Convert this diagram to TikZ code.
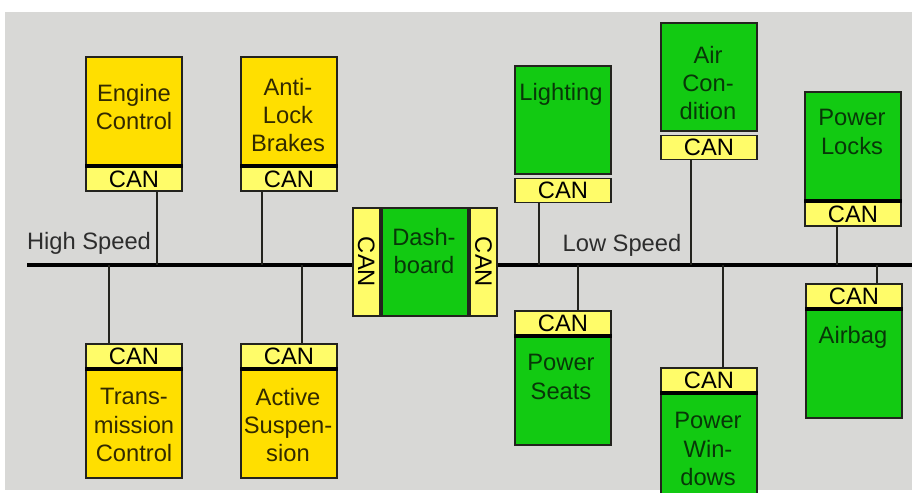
\documentclass[tikz,border=0pt]{standalone}
\usepackage{fontspec}
\setmainfont{Liberation Sans}
\usetikzlibrary{positioning}
\definecolor{ecuyellow}{RGB}{255,223,0}
\definecolor{canyellow}{RGB}{255,252,105}
\definecolor{ecugreen}{RGB}{18,202,18}
\definecolor{bggray}{RGB}{216,216,214}
\definecolor{edge}{RGB}{35,35,30}
\definecolor{yellowtext}{RGB}{50,42,0}
\definecolor{greentext}{RGB}{8,55,8}
\definecolor{bustext}{RGB}{45,45,45}
\begin{document}
\begin{tikzpicture}[x=0.02cm, y=-0.02cm,
    every node/.style={font=\fontsize{13.5}{16}\selectfont},
    ybox/.style={draw=edge, line width=1.1pt, fill=ecuyellow, minimum width=1.92cm, minimum height=2.16cm, inner sep=0pt},
    gbox/.style={ybox, fill=ecugreen},
    canbox/.style={draw=edge, line width=1.1pt, fill=canyellow, minimum width=1.92cm, minimum height=0.48cm, inner sep=0pt},
    ytext/.style={align=center, text=yellowtext},
    gtext/.style={align=center, text=greentext},
    wire/.style={draw=edge, line width=1.1pt},
    sepline/.style={draw=black, line width=2pt},
    bus/.style={draw=black, line width=2.4pt}]
    % 1. Nền
    \clip (0,0) rectangle (912,493);
    \fill[white] (0,0) rectangle (912,493);
    \fill[bggray] (5,12) rectangle (912,490);

    % 2. Bus và các điểm nối
    \coordinate (busL) at (27,265);
    \coordinate (busR) at (912,265);
    \coordinate (engtap) at (157,265);
    \coordinate (abstap) at (262,265);
    \coordinate (transtap) at (109,265);
    \coordinate (susptap) at (302,265);
    \coordinate (lighttap) at (539,265);
    \coordinate (airtap) at (691,265);
    \coordinate (lockstap) at (837,265);
    \coordinate (seatstap) at (578,265);
    \coordinate (windowstap) at (723,265);
    \coordinate (airbagtap) at (877,265);

    % 3. Dashboard
    \node[gbox, minimum width=1.72cm, anchor=north west] (dash) at (381,207) {};
    \node[canbox, minimum width=0.55cm, minimum height=2.16cm, left=0pt of dash] (dashcanL) {\rotatebox{-90}{CAN}};
    \node[canbox, minimum width=0.55cm, minimum height=2.16cm, right=0pt of dash] (dashcanR) {\rotatebox{-90}{CAN}};
    \node[gtext] (dashtxt) at (424,251) {Dash-\\board};
    \draw[bus] (busL) -- (dashcanL.west |- busL);
    \draw[bus] (dashcanR.east |- busR) -- (busR);
    \node[text=bustext] (high) at (89,243) {High Speed};
    \node[text=bustext] (low) at (622,245) {Low Speed};

    % 4. High Speed: các ECU vàng
    \node[ybox, anchor=north west] (engbox) at (85,56) {};
    \node[canbox, below=0pt of engbox] (engcan) {CAN};
    \draw[sepline] (engbox.south west) -- (engbox.south east);
    \node[ytext] (eng) at (134,107) {Engine\\Control};
    \draw[wire] (engcan.south -| engtap) -- (engtap);

    \node[ybox, anchor=north west] (absbox) at (240,56) {};
    \node[canbox, below=0pt of absbox] (abscan) {CAN};
    \draw[sepline] (absbox.south west) -- (absbox.south east);
    \node[ytext] (abs) at (288,115) {Anti-\\Lock\\Brakes};
    \draw[wire] (abscan.south -| abstap) -- (abstap);

    \node[canbox, anchor=north west] (transcan) at (85,343) {CAN};
    \node[ybox, below=0pt of transcan] (transbox) {};
    \draw[sepline] (transbox.north west) -- (transbox.north east);
    \node[ytext] (trans) at (134,425) {Trans-\\mission\\Control};
    \draw[wire] (transtap) -- (transcan.north -| transtap);

    \node[canbox, anchor=north west] (suspcan) at (240,343) {CAN};
    \node[ybox, below=0pt of suspcan] (suspbox) {};
    \draw[sepline] (suspbox.north west) -- (suspbox.north east);
    \node[ytext] (susp) at (288,425) {Active\\Suspen-\\sion};
    \draw[wire] (susptap) -- (suspcan.north -| susptap);

    % 5. Low Speed: các ECU xanh
    \node[gbox, anchor=north west] (lightbox) at (514,65) {};
    \node[canbox, below=1.5pt of lightbox] (lightcan) {CAN};
    \node[gtext] (light) at (561,94) {Lighting};
    \draw[wire] (lightcan.south -| lighttap) -- (lighttap);

    \node[gbox, anchor=north west] (airbox) at (660,22) {};
    \node[canbox, below=1.5pt of airbox] (aircan) {CAN};
    \node[gtext] (air) at (708,83) {Air\\Con-\\dition};
    \draw[wire] (aircan.south -| airtap) -- (airtap);

    \node[gbox, anchor=north west] (locksbox) at (804,91) {};
    \node[canbox, below=0pt of locksbox] (lockscan) {CAN};
    \draw[sepline] (locksbox.south west) -- (locksbox.south east);
    \node[gtext] (locks) at (852,132) {Power\\Locks};
    \draw[wire] (lockscan.south -| lockstap) -- (lockstap);

    \node[canbox, anchor=north west] (seatscan) at (514,310) {CAN};
    \node[gbox, below=0pt of seatscan] (seatsbox) {};
    \draw[sepline] (seatsbox.north west) -- (seatsbox.north east);
    \node[gtext] (seats) at (561,377) {Power\\Seats};
    \draw[wire] (seatstap) -- (seatscan.north -| seatstap);

    \node[canbox, anchor=north west] (windowscan) at (660,367) {CAN};
    \node[gbox, below=0pt of windowscan] (windowsbox) {};
    \draw[sepline] (windowsbox.north west) -- (windowsbox.north east);
    \node[gtext] (windows) at (708,449) {Power\\Win-\\dows};
    \draw[wire] (windowstap) -- (windowscan.north -| windowstap);

    \node[canbox, anchor=north west] (airbagcan) at (805,283) {CAN};
    \node[gbox, below=0pt of airbagcan] (airbagbox) {};
    \draw[sepline] (airbagbox.north west) -- (airbagbox.north east);
    \node[gtext] (airbag) at (853,337) {Airbag};
    \draw[wire] (airbagtap) -- (airbagcan.north -| airbagtap);
\end{tikzpicture}
\end{document}
